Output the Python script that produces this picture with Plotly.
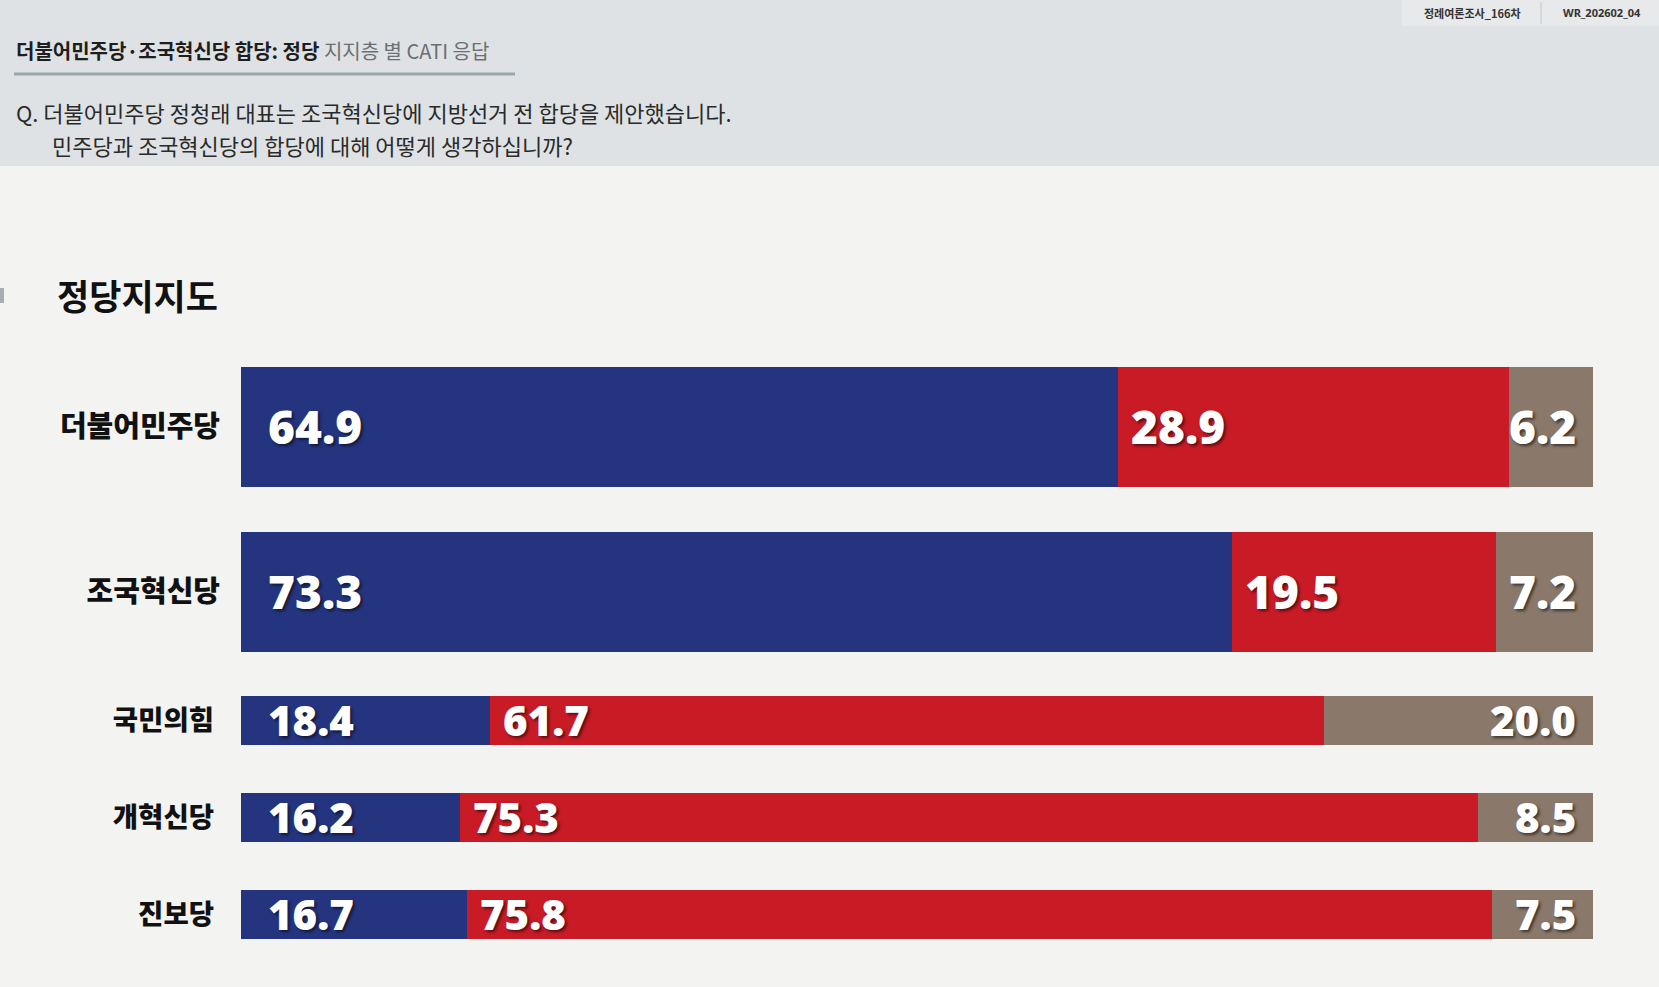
import plotly.graph_objects as go

W, H = 1659, 987

# ---- data ----
big_parties = ["더불어민주당", "조국혁신당"]
big_agree = [64.9, 73.3]
big_disagree = [28.9, 19.5]
big_dk = [6.2, 7.2]

small_parties = ["국민의힘", "개혁신당", "진보당"]
small_agree = [18.4, 16.2, 16.7]
small_disagree = [61.7, 75.3, 75.8]
small_dk = [20.0, 8.5, 7.5]

series_names = ["찬성", "반대", "모름/무응답"]

BLUE = "#25347f"
RED = "#c81b26"
GRAY = "#8a796b"
BG = "#f3f4f2"
HEADER = "#dfe2e4"
FONT_KR = "Noto Sans CJK KR"

def px_x(p):
    return p / W

def px_y(p):
    return 1 - p / H

fig = go.Figure()

groups = [
    dict(cats=big_parties, vals=[big_agree, big_disagree, big_dk], xa="x", ya="y",
         width=0.73, size=46),
    dict(cats=small_parties, vals=[small_agree, small_disagree, small_dk], xa="x2", ya="y2",
         width=0.505, size=42),
]
colors = [BLUE, RED, GRAY]

annotations = []
shadow = "2px 2px 3px rgba(0,0,0,0.55)"
for g in groups:
    for si, (vals, col) in enumerate(zip(g["vals"], colors)):
        fig.add_trace(go.Bar(
            y=g["cats"], x=vals, orientation="h", name=series_names[si],
            marker=dict(color=col, line=dict(width=0)), width=g["width"],
            xaxis=g["xa"], yaxis=g["ya"], showlegend=False, hoverinfo="x+y",
        ))
    for ci, cat in enumerate(g["cats"]):
        a, d, k = g["vals"][0][ci], g["vals"][1][ci], g["vals"][2][ci]
        lab_font = dict(family="Open Sans", size=g["size"], color="white",
                        weight=800, shadow=shadow)
        # agree label: starts at bar start
        annotations.append(dict(x=0, y=cat, xref=g["xa"], yref=g["ya"], text=f"{a:.1f}",
                                showarrow=False, xanchor="left", yanchor="middle",
                                xshift=25, yshift=1, font=lab_font))
        # disagree label: starts where disagree segment starts
        annotations.append(dict(x=a, y=cat, xref=g["xa"], yref=g["ya"], text=f"{d:.1f}",
                                showarrow=False, xanchor="left", yanchor="middle",
                                xshift=11, yshift=1, font=lab_font))
        # don't-know label: right end of the bar (end of axis domain)
        annotations.append(dict(x=1, y=cat, xref=g["xa"] + " domain", yref=g["ya"],
                                text=f"{k:.1f}", showarrow=False, xanchor="right",
                                yanchor="middle", xshift=-15, yshift=1, font=lab_font))

fig.update_layout(barmode="stack")

x_dom = [px_x(241), px_x(1593)]
fig.update_layout(
    xaxis=dict(domain=x_dom, range=[0, 100], visible=False, fixedrange=True),
    xaxis2=dict(domain=x_dom, range=[0, 100], visible=False, anchor="y2", fixedrange=True),
    yaxis=dict(domain=[px_y(673.75), px_y(344.75)], range=[1.5, -0.5], anchor="x",
               showgrid=False, zeroline=False, showline=False, ticks="",
               ticklabelstandoff=20,
               tickfont=dict(family=FONT_KR, size=29, color="#111111", weight=900)),
    yaxis2=dict(domain=[px_y(963), px_y(672)], range=[2.5, -0.5], anchor="x2",
                showgrid=False, zeroline=False, showline=False, ticks="",
                ticklabelstandoff=26,
                tickfont=dict(family=FONT_KR, size=27.5, color="#111111", weight=900)),
)

shapes = [
    dict(type="rect", xref="paper", yref="paper", x0=0, x1=1, y0=px_y(166), y1=1,
         fillcolor=HEADER, line=dict(width=0), layer="below"),
    dict(type="rect", xref="paper", yref="paper", x0=px_x(1402), x1=1, y0=px_y(26), y1=1,
         fillcolor="#e7e9ea", line=dict(width=0), layer="below"),
    dict(type="line", xref="paper", yref="paper", x0=px_x(1541), x1=px_x(1541),
         y0=px_y(24), y1=px_y(2), line=dict(color="#c4c7c9", width=1)),
    dict(type="line", xref="paper", yref="paper", x0=px_x(14), x1=px_x(515),
         y0=px_y(74), y1=px_y(74), line=dict(color="#9aa7ae", width=3)),
    dict(type="rect", xref="paper", yref="paper", x0=0, x1=px_x(4), y0=px_y(303), y1=px_y(288),
         fillcolor="#a9adb0", line=dict(width=0)),
]

annotations += [
    dict(x=px_x(14), y=px_y(50), xref="paper", yref="paper", xanchor="left", yanchor="middle",
         showarrow=False,
         text="<b>더불어민주당·조국혁신당 합당: 정당</b><span style='color:#6b6f73'> 지지층 별 CATI 응답</span>",
         font=dict(family=FONT_KR, size=20, color="#1e1e1e")),
    dict(x=px_x(14), y=px_y(112), xref="paper", yref="paper", xanchor="left", yanchor="middle",
         showarrow=False,
         text="Q. 더불어민주당 정청래 대표는 조국혁신당에 지방선거 전 합당을 제안했습니다.",
         font=dict(family=FONT_KR, size=22, color="#2a2a2a")),
    dict(x=px_x(50), y=px_y(145), xref="paper", yref="paper", xanchor="left", yanchor="middle",
         showarrow=False,
         text="민주당과 조국혁신당의 합당에 대해 어떻게 생각하십니까?",
         font=dict(family=FONT_KR, size=22, color="#2a2a2a")),
    dict(x=px_x(1472), y=px_y(13), xref="paper", yref="paper", xanchor="center", yanchor="middle",
         showarrow=False, text="<b>정례여론조사_166차</b>",
         font=dict(family=FONT_KR, size=11, color="#333333")),
    dict(x=px_x(1602), y=px_y(13), xref="paper", yref="paper", xanchor="center", yanchor="middle",
         showarrow=False, text="<b>WR_202602_04</b>",
         font=dict(family="Noto Sans", size=11, color="#333333")),
    dict(x=px_x(55), y=px_y(295), xref="paper", yref="paper", xanchor="left", yanchor="middle",
         showarrow=False, text="<b>정당지지도</b>",
         font=dict(family=FONT_KR, size=35, color="#111111", weight=900)),
]

fig.update_layout(
    width=W, height=H,
    margin=dict(l=0, r=0, t=0, b=0),
    paper_bgcolor=BG, plot_bgcolor="rgba(0,0,0,0)",
    shapes=shapes, annotations=annotations,
    bargap=0,
)

fig.write_html("out.html", config={"displayModeBar": False},
               post_script="document.body.style.margin='0';")
